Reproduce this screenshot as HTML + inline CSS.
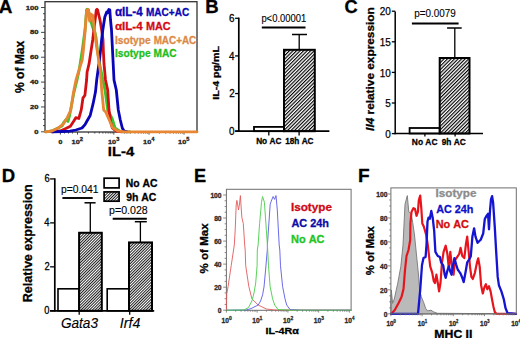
<!DOCTYPE html>
<html><head><meta charset="utf-8"><style>
html,body{margin:0;padding:0;background:#fff;}
svg{display:block;font-family:"Liberation Sans",sans-serif;font-kerning:none;}
</style></head><body>
<svg width="520" height="338" viewBox="0 0 520 338">
<rect width="520" height="338" fill="#fff"/>
<defs>
<pattern id="hB" patternUnits="userSpaceOnUse" width="2.5" height="10" patternTransform="rotate(45)"><rect x="0" y="0" width="1.15" height="10" fill="#000"/></pattern>
<pattern id="hD" patternUnits="userSpaceOnUse" width="2.0" height="10" patternTransform="rotate(45)"><rect x="0" y="0" width="0.95" height="10" fill="#111"/></pattern>
</defs>
<text x="-1.37" y="12.50" font-size="19.04" font-weight="bold" font-style="normal" fill="#000" stroke="#000" stroke-width="0.3" textLength="13.67" lengthAdjust="spacingAndGlyphs" >A</text>
<text x="205.26" y="12.60" font-size="19.04" font-weight="bold" font-style="normal" fill="#000" stroke="#000" stroke-width="0.3" textLength="13.38" lengthAdjust="spacingAndGlyphs" >B</text>
<text x="344.55" y="12.60" font-size="19.04" font-weight="bold" font-style="normal" fill="#000" stroke="#000" stroke-width="0.3" textLength="13.14" lengthAdjust="spacingAndGlyphs" >C</text>
<text x="1.86" y="182.40" font-size="19.04" font-weight="bold" font-style="normal" fill="#000" stroke="#000" stroke-width="0.3" textLength="13.42" lengthAdjust="spacingAndGlyphs" >D</text>
<text x="194.08" y="182.40" font-size="19.04" font-weight="bold" font-style="normal" fill="#000" stroke="#000" stroke-width="0.3" textLength="12.13" lengthAdjust="spacingAndGlyphs" >E</text>
<text x="357.92" y="182.40" font-size="19.04" font-weight="bold" font-style="normal" fill="#000" stroke="#000" stroke-width="0.3" textLength="11.68" lengthAdjust="spacingAndGlyphs" >F</text>
<rect x="45.00" y="1.70" width="152.00" height="130.30" fill="none" stroke="#333" stroke-width="1.3"/>
<line x1="41.00" y1="131.80" x2="45.00" y2="131.80" stroke="#333" stroke-width="0.9" />
<line x1="43.00" y1="125.59" x2="45.00" y2="125.59" stroke="#333" stroke-width="0.9" />
<line x1="43.00" y1="119.37" x2="45.00" y2="119.37" stroke="#333" stroke-width="0.9" />
<line x1="43.00" y1="113.16" x2="45.00" y2="113.16" stroke="#333" stroke-width="0.9" />
<line x1="41.00" y1="106.94" x2="45.00" y2="106.94" stroke="#333" stroke-width="0.9" />
<line x1="43.00" y1="100.73" x2="45.00" y2="100.73" stroke="#333" stroke-width="0.9" />
<line x1="43.00" y1="94.51" x2="45.00" y2="94.51" stroke="#333" stroke-width="0.9" />
<line x1="43.00" y1="88.30" x2="45.00" y2="88.30" stroke="#333" stroke-width="0.9" />
<line x1="41.00" y1="82.08" x2="45.00" y2="82.08" stroke="#333" stroke-width="0.9" />
<line x1="43.00" y1="75.87" x2="45.00" y2="75.87" stroke="#333" stroke-width="0.9" />
<line x1="43.00" y1="69.65" x2="45.00" y2="69.65" stroke="#333" stroke-width="0.9" />
<line x1="43.00" y1="63.44" x2="45.00" y2="63.44" stroke="#333" stroke-width="0.9" />
<line x1="41.00" y1="57.22" x2="45.00" y2="57.22" stroke="#333" stroke-width="0.9" />
<line x1="43.00" y1="51.01" x2="45.00" y2="51.01" stroke="#333" stroke-width="0.9" />
<line x1="43.00" y1="44.79" x2="45.00" y2="44.79" stroke="#333" stroke-width="0.9" />
<line x1="43.00" y1="38.58" x2="45.00" y2="38.58" stroke="#333" stroke-width="0.9" />
<line x1="41.00" y1="32.36" x2="45.00" y2="32.36" stroke="#333" stroke-width="0.9" />
<line x1="43.00" y1="26.14" x2="45.00" y2="26.14" stroke="#333" stroke-width="0.9" />
<line x1="43.00" y1="19.93" x2="45.00" y2="19.93" stroke="#333" stroke-width="0.9" />
<line x1="43.00" y1="13.72" x2="45.00" y2="13.72" stroke="#333" stroke-width="0.9" />
<line x1="41.00" y1="7.50" x2="45.00" y2="7.50" stroke="#333" stroke-width="0.9" />
<line x1="88.43" y1="132.00" x2="88.43" y2="133.60" stroke="#333" stroke-width="0.8" />
<line x1="94.82" y1="132.00" x2="94.82" y2="133.60" stroke="#333" stroke-width="0.8" />
<line x1="99.35" y1="132.00" x2="99.35" y2="133.60" stroke="#333" stroke-width="0.8" />
<line x1="102.87" y1="132.00" x2="102.87" y2="133.60" stroke="#333" stroke-width="0.8" />
<line x1="105.75" y1="132.00" x2="105.75" y2="133.60" stroke="#333" stroke-width="0.8" />
<line x1="108.18" y1="132.00" x2="108.18" y2="133.60" stroke="#333" stroke-width="0.8" />
<line x1="110.28" y1="132.00" x2="110.28" y2="133.60" stroke="#333" stroke-width="0.8" />
<line x1="112.14" y1="132.00" x2="112.14" y2="133.60" stroke="#333" stroke-width="0.8" />
<line x1="124.40" y1="132.00" x2="124.40" y2="133.60" stroke="#333" stroke-width="0.8" />
<line x1="130.59" y1="132.00" x2="130.59" y2="133.60" stroke="#333" stroke-width="0.8" />
<line x1="134.99" y1="132.00" x2="134.99" y2="133.60" stroke="#333" stroke-width="0.8" />
<line x1="138.40" y1="132.00" x2="138.40" y2="133.60" stroke="#333" stroke-width="0.8" />
<line x1="141.19" y1="132.00" x2="141.19" y2="133.60" stroke="#333" stroke-width="0.8" />
<line x1="143.55" y1="132.00" x2="143.55" y2="133.60" stroke="#333" stroke-width="0.8" />
<line x1="145.59" y1="132.00" x2="145.59" y2="133.60" stroke="#333" stroke-width="0.8" />
<line x1="147.39" y1="132.00" x2="147.39" y2="133.60" stroke="#333" stroke-width="0.8" />
<line x1="159.54" y1="132.00" x2="159.54" y2="133.60" stroke="#333" stroke-width="0.8" />
<line x1="165.70" y1="132.00" x2="165.70" y2="133.60" stroke="#333" stroke-width="0.8" />
<line x1="170.07" y1="132.00" x2="170.07" y2="133.60" stroke="#333" stroke-width="0.8" />
<line x1="173.46" y1="132.00" x2="173.46" y2="133.60" stroke="#333" stroke-width="0.8" />
<line x1="176.24" y1="132.00" x2="176.24" y2="133.60" stroke="#333" stroke-width="0.8" />
<line x1="178.58" y1="132.00" x2="178.58" y2="133.60" stroke="#333" stroke-width="0.8" />
<line x1="180.61" y1="132.00" x2="180.61" y2="133.60" stroke="#333" stroke-width="0.8" />
<line x1="182.40" y1="132.00" x2="182.40" y2="133.60" stroke="#333" stroke-width="0.8" />
<line x1="60.40" y1="132.00" x2="60.40" y2="134.60" stroke="#333" stroke-width="0.9" />
<line x1="77.50" y1="132.00" x2="77.50" y2="134.60" stroke="#333" stroke-width="0.9" />
<line x1="113.80" y1="132.00" x2="113.80" y2="134.60" stroke="#333" stroke-width="0.9" />
<line x1="149.00" y1="132.00" x2="149.00" y2="134.60" stroke="#333" stroke-width="0.9" />
<line x1="184.00" y1="132.00" x2="184.00" y2="134.60" stroke="#333" stroke-width="0.9" />
<line x1="64.50" y1="132.00" x2="64.50" y2="133.60" stroke="#333" stroke-width="0.8" />
<line x1="68.50" y1="132.00" x2="68.50" y2="133.60" stroke="#333" stroke-width="0.8" />
<line x1="72.50" y1="132.00" x2="72.50" y2="133.60" stroke="#333" stroke-width="0.8" />
<polyline points="46.0,131.8 52.0,131.0 58.0,128.0 62.0,126.0 64.0,122.0 66.0,119.5 68.0,121.5 69.5,116.0 71.0,108.0 73.6,94.0 76.8,81.0 79.2,70.0 82.3,50.0 85.0,30.0 86.6,10.0 87.0,9.3 88.5,10.0 90.0,18.0 92.5,27.0 95.1,33.0 96.0,37.0 97.4,50.0 99.5,63.0 101.5,73.0 102.8,80.0 105.0,90.0 107.7,110.0 112.3,119.0 115.0,128.0 120.0,131.5 130.0,131.8" fill="none" stroke="#38c42a" stroke-width="2.8" stroke-linejoin="round" stroke-linecap="round" />
<polyline points="52.0,131.8 60.4,131.0 65.8,128.5 70.4,126.2 73.5,121.5 75.8,117.7 78.8,118.5 81.3,109.6 83.0,97.8 84.9,95.4 86.6,80.0 87.1,72.0 89.1,63.7 90.9,51.8 92.7,40.0 94.5,25.0 96.3,10.0 97.0,9.3 97.6,10.0 100.0,20.0 101.7,30.0 103.0,40.0 103.4,51.8 104.0,63.7 105.5,80.0 107.7,90.0 109.0,110.0 110.7,122.0 112.3,128.0 116.0,131.0 122.0,131.8" fill="none" stroke="#d21014" stroke-width="2.8" stroke-linejoin="round" stroke-linecap="round" />
<polyline points="52.0,131.8 62.0,131.5 70.0,131.2 75.8,130.0 82.0,128.0 85.0,124.6 87.0,121.0 90.2,115.5 93.1,103.7 95.5,91.8 96.7,80.0 97.8,72.0 99.0,63.7 100.4,51.8 101.6,40.0 102.8,30.0 104.8,17.0 106.7,12.0 107.5,13.0 108.8,9.5 109.8,9.8 110.5,20.0 111.5,30.0 112.0,40.0 113.0,60.0 114.0,80.0 116.3,90.0 118.3,110.0 120.3,120.0 122.3,128.0 124.0,131.0 127.0,131.8" fill="none" stroke="#0a06b8" stroke-width="2.8" stroke-linejoin="round" stroke-linecap="round" />
<polyline points="45.5,131.8 52.0,131.0 58.8,127.7 63.5,123.8 67.3,117.7 70.8,110.0 73.6,91.8 76.0,80.0 79.0,70.0 82.2,60.0 83.4,50.0 85.2,30.0 86.6,10.0 88.3,9.5 89.6,21.0 90.6,14.0 92.8,15.5 94.3,28.0 95.7,40.0 97.4,51.8 99.2,63.7 100.4,72.0 101.0,80.0 101.7,90.0 103.7,110.0 105.7,112.0 109.0,119.3 112.3,127.3 117.7,131.0 125.0,131.8 197.0,131.8" fill="none" stroke="#e88634" stroke-width="2.8" stroke-linejoin="round" stroke-linecap="round" />
<text x="34.37" y="133.90" font-size="6.10" font-weight="bold" font-style="normal" fill="#222" stroke="#222" stroke-width="0.3" textLength="4.24" lengthAdjust="spacingAndGlyphs" >0</text>
<text x="30.13" y="109.04" font-size="6.10" font-weight="bold" font-style="normal" fill="#222" stroke="#222" stroke-width="0.3" textLength="8.49" lengthAdjust="spacingAndGlyphs" >20</text>
<text x="30.13" y="84.18" font-size="6.10" font-weight="bold" font-style="normal" fill="#222" stroke="#222" stroke-width="0.3" textLength="8.49" lengthAdjust="spacingAndGlyphs" >40</text>
<text x="30.13" y="59.32" font-size="6.10" font-weight="bold" font-style="normal" fill="#222" stroke="#222" stroke-width="0.3" textLength="8.49" lengthAdjust="spacingAndGlyphs" >60</text>
<text x="30.13" y="34.46" font-size="6.10" font-weight="bold" font-style="normal" fill="#222" stroke="#222" stroke-width="0.3" textLength="8.49" lengthAdjust="spacingAndGlyphs" >80</text>
<text x="25.88" y="9.60" font-size="6.10" font-weight="bold" font-style="normal" fill="#222" stroke="#222" stroke-width="0.3" textLength="12.73" lengthAdjust="spacingAndGlyphs" >100</text>
<text x="58.45" y="143.90" font-size="6.10" font-weight="bold" font-style="normal" fill="#222" stroke="#222" stroke-width="0.3" textLength="3.90" lengthAdjust="spacingAndGlyphs" >0</text>
<text x="71.64" y="143.90" font-size="6.10" font-weight="bold" font-style="normal" fill="#222" stroke="#222" stroke-width="0.3" textLength="8.16" lengthAdjust="spacingAndGlyphs" >10</text>
<text x="79.80" y="140.90" font-size="5.23" font-weight="bold" font-style="normal" fill="#222" stroke="#222" stroke-width="0.3" textLength="3.23" lengthAdjust="spacingAndGlyphs" >2</text>
<text x="107.94" y="143.90" font-size="6.10" font-weight="bold" font-style="normal" fill="#222" stroke="#222" stroke-width="0.3" textLength="8.16" lengthAdjust="spacingAndGlyphs" >10</text>
<text x="116.17" y="140.90" font-size="5.23" font-weight="bold" font-style="normal" fill="#222" stroke="#222" stroke-width="0.3" textLength="3.13" lengthAdjust="spacingAndGlyphs" >3</text>
<text x="143.14" y="143.90" font-size="6.10" font-weight="bold" font-style="normal" fill="#222" stroke="#222" stroke-width="0.3" textLength="8.16" lengthAdjust="spacingAndGlyphs" >10</text>
<text x="151.42" y="140.90" font-size="5.23" font-weight="bold" font-style="normal" fill="#222" stroke="#222" stroke-width="0.3" textLength="2.91" lengthAdjust="spacingAndGlyphs" >4</text>
<text x="178.14" y="143.90" font-size="6.10" font-weight="bold" font-style="normal" fill="#222" stroke="#222" stroke-width="0.3" textLength="8.16" lengthAdjust="spacingAndGlyphs" >10</text>
<text x="186.33" y="140.90" font-size="5.23" font-weight="bold" font-style="normal" fill="#222" stroke="#222" stroke-width="0.3" textLength="3.13" lengthAdjust="spacingAndGlyphs" >5</text>
<text x="107.80" y="156.20" font-size="13.66" font-weight="bold" font-style="normal" fill="#000" stroke="#000" stroke-width="0.3" textLength="26.48" lengthAdjust="spacingAndGlyphs" >IL-4</text>
<text transform="translate(23.80 92.70) rotate(-90)" x="-0.30" y="0" font-size="13.37" font-weight="bold" font-style="normal" fill="#000" stroke="#000" stroke-width="0.3" textLength="52.29" lengthAdjust="spacingAndGlyphs">% of Max</text>
<text x="114.95" y="16.00" font-size="11.92" font-weight="bold" font-style="normal" fill="#0a06b4" stroke="#0a06b4" stroke-width="0.3" textLength="27.71" lengthAdjust="spacingAndGlyphs" >αIL-4</text>
<text x="145.93" y="15.90" font-size="10.90" font-weight="bold" font-style="normal" fill="#0a06b4" stroke="#0a06b4" stroke-width="0.3" textLength="43.25" lengthAdjust="spacingAndGlyphs" >MAC+AC</text>
<text x="114.95" y="29.60" font-size="11.77" font-weight="bold" font-style="normal" fill="#d40a18" stroke="#d40a18" stroke-width="0.3" textLength="27.71" lengthAdjust="spacingAndGlyphs" >αIL-4</text>
<text x="145.88" y="29.60" font-size="10.90" font-weight="bold" font-style="normal" fill="#d40a18" stroke="#d40a18" stroke-width="0.3" textLength="24.62" lengthAdjust="spacingAndGlyphs" >MAC</text>
<text x="115.02" y="43.60" font-size="11.19" font-weight="bold" font-style="normal" fill="#dc8a48" stroke="#dc8a48" stroke-width="0.3" textLength="35.63" lengthAdjust="spacingAndGlyphs" >Isotype</text>
<text x="153.64" y="43.60" font-size="10.90" font-weight="bold" font-style="normal" fill="#dc8a48" stroke="#dc8a48" stroke-width="0.3" textLength="42.63" lengthAdjust="spacingAndGlyphs" >MAC+AC</text>
<text x="115.02" y="57.10" font-size="11.19" font-weight="bold" font-style="normal" fill="#1ebe1e" stroke="#1ebe1e" stroke-width="0.3" textLength="35.63" lengthAdjust="spacingAndGlyphs" >Isotype</text>
<text x="153.62" y="57.10" font-size="10.90" font-weight="bold" font-style="normal" fill="#1ebe1e" stroke="#1ebe1e" stroke-width="0.3" textLength="23.05" lengthAdjust="spacingAndGlyphs" >MAC</text>
<rect x="254.00" y="126.90" width="30.00" height="4.30" fill="#fff" stroke="#000" stroke-width="1.8"/>
<rect x="284.00" y="49.80" width="30.80" height="81.40" fill="url(#hB)" stroke="#000" stroke-width="2.0"/>
<line x1="299.20" y1="49.80" x2="299.20" y2="34.50" stroke="#000" stroke-width="1.3" />
<line x1="292.00" y1="34.50" x2="307.00" y2="34.50" stroke="#000" stroke-width="1.5" />
<line x1="238.80" y1="17.60" x2="238.80" y2="131.90" stroke="#000" stroke-width="1.7" />
<line x1="235.10" y1="131.20" x2="329.40" y2="131.20" stroke="#000" stroke-width="1.7" />
<line x1="235.10" y1="131.20" x2="238.80" y2="131.20" stroke="#000" stroke-width="1.3" />
<text x="229.06" y="135.10" font-size="11.05" font-weight="normal" font-style="normal" fill="#000" stroke="#000" stroke-width="0.28" textLength="5.53" lengthAdjust="spacingAndGlyphs" >0</text>
<line x1="235.10" y1="93.56" x2="238.80" y2="93.56" stroke="#000" stroke-width="1.3" />
<text x="229.17" y="97.46" font-size="11.05" font-weight="normal" font-style="normal" fill="#000" stroke="#000" stroke-width="0.28" textLength="5.53" lengthAdjust="spacingAndGlyphs" >2</text>
<line x1="235.10" y1="55.92" x2="238.80" y2="55.92" stroke="#000" stroke-width="1.3" />
<text x="228.96" y="59.82" font-size="11.05" font-weight="normal" font-style="normal" fill="#000" stroke="#000" stroke-width="0.28" textLength="5.53" lengthAdjust="spacingAndGlyphs" >4</text>
<line x1="235.10" y1="18.28" x2="238.80" y2="18.28" stroke="#000" stroke-width="1.3" />
<text x="229.11" y="22.18" font-size="11.05" font-weight="normal" font-style="normal" fill="#000" stroke="#000" stroke-width="0.28" textLength="5.53" lengthAdjust="spacingAndGlyphs" >6</text>
<line x1="268.80" y1="131.20" x2="268.80" y2="135.60" stroke="#000" stroke-width="1.3" />
<line x1="299.10" y1="131.20" x2="299.10" y2="135.60" stroke="#000" stroke-width="1.3" />
<text x="256.15" y="144.40" font-size="9.16" font-weight="bold" font-style="normal" fill="#000" stroke="#000" stroke-width="0.3" textLength="25.28" lengthAdjust="spacingAndGlyphs" >No AC</text>
<text x="285.18" y="144.40" font-size="9.16" font-weight="bold" font-style="normal" fill="#000" stroke="#000" stroke-width="0.3" textLength="28.34" lengthAdjust="spacingAndGlyphs" >18h AC</text>
<text x="261.39" y="22.30" font-size="10.32" font-weight="normal" font-style="normal" fill="#000" stroke="#000" stroke-width="0.12" textLength="44.87" lengthAdjust="spacingAndGlyphs" >p&lt;0.00001</text>
<line x1="261.80" y1="27.50" x2="305.50" y2="27.50" stroke="#000" stroke-width="1.8" />
<text transform="translate(218.80 99.00) rotate(-90)" x="-0.71" y="0" font-size="9.30" font-weight="bold" font-style="normal" fill="#000" stroke="#000" stroke-width="0.3" textLength="53.64" lengthAdjust="spacingAndGlyphs">IL-4 pg/mL</text>
<rect x="409.60" y="128.00" width="30.10" height="5.50" fill="#fff" stroke="#000" stroke-width="1.8"/>
<rect x="439.70" y="58.00" width="29.80" height="75.50" fill="url(#hB)" stroke="#000" stroke-width="2.0"/>
<line x1="454.80" y1="58.00" x2="454.80" y2="28.00" stroke="#000" stroke-width="1.3" />
<line x1="447.10" y1="28.00" x2="461.70" y2="28.00" stroke="#000" stroke-width="1.5" />
<line x1="395.20" y1="11.40" x2="395.20" y2="134.20" stroke="#000" stroke-width="1.5" />
<line x1="394.50" y1="133.50" x2="483.00" y2="133.50" stroke="#000" stroke-width="1.5" />
<line x1="391.80" y1="133.60" x2="395.20" y2="133.60" stroke="#000" stroke-width="1.3" />
<text x="385.24" y="137.80" font-size="11.34" font-weight="normal" font-style="normal" fill="#000" stroke="#000" stroke-width="0.25" textLength="5.55" lengthAdjust="spacingAndGlyphs" >0</text>
<line x1="391.80" y1="103.00" x2="395.20" y2="103.00" stroke="#000" stroke-width="1.3" />
<text x="385.27" y="107.20" font-size="11.34" font-weight="normal" font-style="normal" fill="#000" stroke="#000" stroke-width="0.25" textLength="5.55" lengthAdjust="spacingAndGlyphs" >5</text>
<line x1="391.80" y1="72.40" x2="395.20" y2="72.40" stroke="#000" stroke-width="1.3" />
<text x="379.69" y="76.60" font-size="11.34" font-weight="normal" font-style="normal" fill="#000" stroke="#000" stroke-width="0.25" textLength="11.10" lengthAdjust="spacingAndGlyphs" >10</text>
<line x1="391.80" y1="41.80" x2="395.20" y2="41.80" stroke="#000" stroke-width="1.3" />
<text x="379.72" y="46.00" font-size="11.34" font-weight="normal" font-style="normal" fill="#000" stroke="#000" stroke-width="0.25" textLength="11.10" lengthAdjust="spacingAndGlyphs" >15</text>
<line x1="391.80" y1="11.20" x2="395.20" y2="11.20" stroke="#000" stroke-width="1.3" />
<text x="379.69" y="15.40" font-size="11.34" font-weight="normal" font-style="normal" fill="#000" stroke="#000" stroke-width="0.25" textLength="11.10" lengthAdjust="spacingAndGlyphs" >20</text>
<line x1="424.90" y1="133.50" x2="424.90" y2="136.60" stroke="#000" stroke-width="1.3" />
<line x1="455.10" y1="133.50" x2="455.10" y2="136.60" stroke="#000" stroke-width="1.3" />
<text x="411.84" y="145.20" font-size="9.74" font-weight="bold" font-style="normal" fill="#000" stroke="#000" stroke-width="0.3" textLength="25.69" lengthAdjust="spacingAndGlyphs" >No AC</text>
<text x="441.71" y="145.20" font-size="9.74" font-weight="bold" font-style="normal" fill="#000" stroke="#000" stroke-width="0.3" textLength="24.12" lengthAdjust="spacingAndGlyphs" >9h AC</text>
<text x="414.16" y="16.80" font-size="11.34" font-weight="normal" font-style="normal" fill="#000" stroke="#000" stroke-width="0.12" textLength="41.51" lengthAdjust="spacingAndGlyphs" >p=0.0079</text>
<line x1="411.90" y1="23.60" x2="458.60" y2="23.60" stroke="#000" stroke-width="2.0" />
<text transform="translate(373.50 130.70) rotate(-90)" y="0" font-size="11.63" stroke="#000" stroke-width="0.3" xml:space="preserve"><tspan x="-0.21" font-weight="bold" font-style="italic" textLength="13.15" lengthAdjust="spacingAndGlyphs">Il4</tspan><tspan x="12.95" font-weight="bold" font-style="normal" textLength="110.49" lengthAdjust="spacingAndGlyphs"> relative expression</tspan></text>
<rect x="58.00" y="288.82" width="21.10" height="21.98" fill="#fff" stroke="#000" stroke-width="1.6"/>
<rect x="79.10" y="232.77" width="22.70" height="78.03" fill="url(#hD)" stroke="#000" stroke-width="2.0"/>
<rect x="107.20" y="288.82" width="21.80" height="21.98" fill="#fff" stroke="#000" stroke-width="1.6"/>
<rect x="129.00" y="242.44" width="23.00" height="68.36" fill="url(#hD)" stroke="#000" stroke-width="2.0"/>
<line x1="90.30" y1="232.77" x2="90.30" y2="202.80" stroke="#000" stroke-width="1.3" />
<line x1="84.50" y1="202.80" x2="95.60" y2="202.80" stroke="#000" stroke-width="1.5" />
<line x1="140.40" y1="242.44" x2="140.40" y2="221.70" stroke="#000" stroke-width="1.3" />
<line x1="134.80" y1="221.70" x2="146.80" y2="221.70" stroke="#000" stroke-width="1.5" />
<line x1="54.80" y1="178.30" x2="54.80" y2="311.50" stroke="#000" stroke-width="1.7" />
<line x1="50.10" y1="310.80" x2="154.20" y2="310.80" stroke="#000" stroke-width="1.7" />
<line x1="50.10" y1="310.80" x2="54.80" y2="310.80" stroke="#000" stroke-width="1.3" />
<text x="44.36" y="314.30" font-size="10.17" font-weight="normal" font-style="normal" fill="#000" stroke="#000" stroke-width="0.28" textLength="5.21" lengthAdjust="spacingAndGlyphs" >0</text>
<line x1="50.10" y1="266.84" x2="54.80" y2="266.84" stroke="#000" stroke-width="1.3" />
<text x="44.46" y="270.34" font-size="10.17" font-weight="normal" font-style="normal" fill="#000" stroke="#000" stroke-width="0.28" textLength="5.21" lengthAdjust="spacingAndGlyphs" >2</text>
<line x1="50.10" y1="222.88" x2="54.80" y2="222.88" stroke="#000" stroke-width="1.3" />
<text x="44.27" y="226.38" font-size="10.17" font-weight="normal" font-style="normal" fill="#000" stroke="#000" stroke-width="0.28" textLength="5.21" lengthAdjust="spacingAndGlyphs" >4</text>
<line x1="50.10" y1="178.92" x2="54.80" y2="178.92" stroke="#000" stroke-width="1.3" />
<text x="44.41" y="182.42" font-size="10.17" font-weight="normal" font-style="normal" fill="#000" stroke="#000" stroke-width="0.28" textLength="5.21" lengthAdjust="spacingAndGlyphs" >6</text>
<line x1="79.20" y1="310.80" x2="79.20" y2="314.80" stroke="#000" stroke-width="1.3" />
<line x1="129.70" y1="310.80" x2="129.70" y2="314.80" stroke="#000" stroke-width="1.3" />
<text x="60.93" y="328.40" font-size="15.12" font-weight="normal" font-style="italic" fill="#000" stroke="#000" stroke-width="0.12" textLength="37.09" lengthAdjust="spacingAndGlyphs" >Gata3</text>
<text x="119.84" y="328.40" font-size="15.12" font-weight="normal" font-style="italic" fill="#000" stroke="#000" stroke-width="0.12" textLength="20.49" lengthAdjust="spacingAndGlyphs" >Irf4</text>
<text x="60.93" y="193.00" font-size="11.48" font-weight="normal" font-style="normal" fill="#000" stroke="#000" stroke-width="0.12" textLength="37.67" lengthAdjust="spacingAndGlyphs" >p=0.041</text>
<line x1="62.40" y1="198.00" x2="92.70" y2="198.00" stroke="#000" stroke-width="1.9" />
<text x="109.12" y="214.40" font-size="11.34" font-weight="normal" font-style="normal" fill="#000" stroke="#000" stroke-width="0.12" textLength="38.64" lengthAdjust="spacingAndGlyphs" >p=0.028</text>
<line x1="112.70" y1="218.80" x2="146.80" y2="218.80" stroke="#000" stroke-width="1.9" />
<rect x="104.10" y="178.20" width="15.00" height="9.70" fill="#fff" stroke="#000" stroke-width="1.7"/>
<rect x="104.10" y="191.90" width="15.00" height="9.30" fill="url(#hD)" stroke="#000" stroke-width="1.7"/>
<text x="125.81" y="186.90" font-size="10.47" font-weight="bold" font-style="normal" fill="#000" stroke="#000" stroke-width="0.3" textLength="31.68" lengthAdjust="spacingAndGlyphs" >No AC</text>
<text x="126.14" y="200.60" font-size="10.76" font-weight="bold" font-style="normal" fill="#000" stroke="#000" stroke-width="0.3" textLength="30.15" lengthAdjust="spacingAndGlyphs" >9h AC</text>
<text transform="translate(31.90 301.50) rotate(-90)" x="-0.84" y="0" font-size="12.94" font-weight="bold" font-style="normal" fill="#000" stroke="#000" stroke-width="0.3" textLength="118.02" lengthAdjust="spacingAndGlyphs">Relative expression</text>
<rect x="226.40" y="189.30" width="124.70" height="121.00" fill="none" stroke="#6e6e6e" stroke-width="1"/>
<polyline points="226.6,310.0 226.6,300.0 226.8,293.7 228.1,286.4 231.2,265.7 234.3,245.0 235.2,230.0 236.2,205.0 236.9,200.4 238.5,210.0 239.5,204.0 240.4,195.6 241.2,208.0 241.9,217.7 243.3,223.5 244.7,245.0 245.2,250.0 245.7,265.7 248.8,286.4 251.9,298.8 258.1,305.0 266.4,309.0 275.0,310.0 351.0,310.2" fill="none" stroke="#e25a5a" stroke-width="0.9" stroke-linejoin="round" stroke-linecap="round" />
<polyline points="226.5,310.2 246.0,310.0 251.0,308.6 255.0,306.6 258.2,305.0 260.6,301.0 262.6,294.8 264.0,287.0 265.4,272.0 267.3,250.0 267.4,245.0 270.2,204.2 271.2,201.3 273.1,196.5 274.6,199.4 276.0,195.6 277.3,210.0 279.2,245.0 279.8,250.0 280.5,265.7 282.6,286.4 285.0,298.8 286.7,305.0 290.0,309.5 300.0,310.2 351.0,310.2" fill="none" stroke="#5a5ae6" stroke-width="0.9" stroke-linejoin="round" stroke-linecap="round" />
<polyline points="226.5,310.2 244.0,310.0 248.5,307.5 251.9,301.0 254.0,293.0 255.7,283.0 257.1,265.7 257.3,250.0 258.1,245.0 259.6,223.5 261.5,202.3 262.5,196.5 263.4,199.0 264.4,202.3 266.3,229.2 267.4,245.0 267.7,250.0 268.5,265.7 270.1,286.4 272.6,298.8 274.7,305.0 278.0,309.5 290.0,310.2 351.0,310.2" fill="none" stroke="#5ad25a" stroke-width="1.0" stroke-linejoin="round" stroke-linecap="round" />
<line x1="223.20" y1="310.20" x2="226.40" y2="310.20" stroke="#6e6e6e" stroke-width="0.8" />
<line x1="224.60" y1="304.44" x2="226.40" y2="304.44" stroke="#6e6e6e" stroke-width="0.8" />
<line x1="224.60" y1="298.68" x2="226.40" y2="298.68" stroke="#6e6e6e" stroke-width="0.8" />
<line x1="224.60" y1="292.92" x2="226.40" y2="292.92" stroke="#6e6e6e" stroke-width="0.8" />
<line x1="223.20" y1="287.16" x2="226.40" y2="287.16" stroke="#6e6e6e" stroke-width="0.8" />
<line x1="224.60" y1="281.40" x2="226.40" y2="281.40" stroke="#6e6e6e" stroke-width="0.8" />
<line x1="224.60" y1="275.64" x2="226.40" y2="275.64" stroke="#6e6e6e" stroke-width="0.8" />
<line x1="224.60" y1="269.88" x2="226.40" y2="269.88" stroke="#6e6e6e" stroke-width="0.8" />
<line x1="223.20" y1="264.12" x2="226.40" y2="264.12" stroke="#6e6e6e" stroke-width="0.8" />
<line x1="224.60" y1="258.36" x2="226.40" y2="258.36" stroke="#6e6e6e" stroke-width="0.8" />
<line x1="224.60" y1="252.60" x2="226.40" y2="252.60" stroke="#6e6e6e" stroke-width="0.8" />
<line x1="224.60" y1="246.84" x2="226.40" y2="246.84" stroke="#6e6e6e" stroke-width="0.8" />
<line x1="223.20" y1="241.08" x2="226.40" y2="241.08" stroke="#6e6e6e" stroke-width="0.8" />
<line x1="224.60" y1="235.32" x2="226.40" y2="235.32" stroke="#6e6e6e" stroke-width="0.8" />
<line x1="224.60" y1="229.56" x2="226.40" y2="229.56" stroke="#6e6e6e" stroke-width="0.8" />
<line x1="224.60" y1="223.80" x2="226.40" y2="223.80" stroke="#6e6e6e" stroke-width="0.8" />
<line x1="223.20" y1="218.04" x2="226.40" y2="218.04" stroke="#6e6e6e" stroke-width="0.8" />
<line x1="224.60" y1="212.28" x2="226.40" y2="212.28" stroke="#6e6e6e" stroke-width="0.8" />
<line x1="224.60" y1="206.52" x2="226.40" y2="206.52" stroke="#6e6e6e" stroke-width="0.8" />
<line x1="224.60" y1="200.76" x2="226.40" y2="200.76" stroke="#6e6e6e" stroke-width="0.8" />
<line x1="223.20" y1="195.00" x2="226.40" y2="195.00" stroke="#6e6e6e" stroke-width="0.8" />
<line x1="226.40" y1="310.30" x2="226.40" y2="312.60" stroke="#6e6e6e" stroke-width="0.8" />
<line x1="235.66" y1="310.30" x2="235.66" y2="311.70" stroke="#6e6e6e" stroke-width="0.8" />
<line x1="241.07" y1="310.30" x2="241.07" y2="311.70" stroke="#6e6e6e" stroke-width="0.8" />
<line x1="244.91" y1="310.30" x2="244.91" y2="311.70" stroke="#6e6e6e" stroke-width="0.8" />
<line x1="247.89" y1="310.30" x2="247.89" y2="311.70" stroke="#6e6e6e" stroke-width="0.8" />
<line x1="250.33" y1="310.30" x2="250.33" y2="311.70" stroke="#6e6e6e" stroke-width="0.8" />
<line x1="252.39" y1="310.30" x2="252.39" y2="311.70" stroke="#6e6e6e" stroke-width="0.8" />
<line x1="254.17" y1="310.30" x2="254.17" y2="311.70" stroke="#6e6e6e" stroke-width="0.8" />
<line x1="255.74" y1="310.30" x2="255.74" y2="311.70" stroke="#6e6e6e" stroke-width="0.8" />
<line x1="257.15" y1="310.30" x2="257.15" y2="312.60" stroke="#6e6e6e" stroke-width="0.8" />
<line x1="266.41" y1="310.30" x2="266.41" y2="311.70" stroke="#6e6e6e" stroke-width="0.8" />
<line x1="271.82" y1="310.30" x2="271.82" y2="311.70" stroke="#6e6e6e" stroke-width="0.8" />
<line x1="275.66" y1="310.30" x2="275.66" y2="311.70" stroke="#6e6e6e" stroke-width="0.8" />
<line x1="278.64" y1="310.30" x2="278.64" y2="311.70" stroke="#6e6e6e" stroke-width="0.8" />
<line x1="281.08" y1="310.30" x2="281.08" y2="311.70" stroke="#6e6e6e" stroke-width="0.8" />
<line x1="283.14" y1="310.30" x2="283.14" y2="311.70" stroke="#6e6e6e" stroke-width="0.8" />
<line x1="284.92" y1="310.30" x2="284.92" y2="311.70" stroke="#6e6e6e" stroke-width="0.8" />
<line x1="286.49" y1="310.30" x2="286.49" y2="311.70" stroke="#6e6e6e" stroke-width="0.8" />
<line x1="287.90" y1="310.30" x2="287.90" y2="312.60" stroke="#6e6e6e" stroke-width="0.8" />
<line x1="297.16" y1="310.30" x2="297.16" y2="311.70" stroke="#6e6e6e" stroke-width="0.8" />
<line x1="302.57" y1="310.30" x2="302.57" y2="311.70" stroke="#6e6e6e" stroke-width="0.8" />
<line x1="306.41" y1="310.30" x2="306.41" y2="311.70" stroke="#6e6e6e" stroke-width="0.8" />
<line x1="309.39" y1="310.30" x2="309.39" y2="311.70" stroke="#6e6e6e" stroke-width="0.8" />
<line x1="311.83" y1="310.30" x2="311.83" y2="311.70" stroke="#6e6e6e" stroke-width="0.8" />
<line x1="313.89" y1="310.30" x2="313.89" y2="311.70" stroke="#6e6e6e" stroke-width="0.8" />
<line x1="315.67" y1="310.30" x2="315.67" y2="311.70" stroke="#6e6e6e" stroke-width="0.8" />
<line x1="317.24" y1="310.30" x2="317.24" y2="311.70" stroke="#6e6e6e" stroke-width="0.8" />
<line x1="318.65" y1="310.30" x2="318.65" y2="312.60" stroke="#6e6e6e" stroke-width="0.8" />
<line x1="327.91" y1="310.30" x2="327.91" y2="311.70" stroke="#6e6e6e" stroke-width="0.8" />
<line x1="333.32" y1="310.30" x2="333.32" y2="311.70" stroke="#6e6e6e" stroke-width="0.8" />
<line x1="337.16" y1="310.30" x2="337.16" y2="311.70" stroke="#6e6e6e" stroke-width="0.8" />
<line x1="340.14" y1="310.30" x2="340.14" y2="311.70" stroke="#6e6e6e" stroke-width="0.8" />
<line x1="342.58" y1="310.30" x2="342.58" y2="311.70" stroke="#6e6e6e" stroke-width="0.8" />
<line x1="344.64" y1="310.30" x2="344.64" y2="311.70" stroke="#6e6e6e" stroke-width="0.8" />
<line x1="346.42" y1="310.30" x2="346.42" y2="311.70" stroke="#6e6e6e" stroke-width="0.8" />
<line x1="347.99" y1="310.30" x2="347.99" y2="311.70" stroke="#6e6e6e" stroke-width="0.8" />
<line x1="349.40" y1="310.30" x2="349.40" y2="312.60" stroke="#6e6e6e" stroke-width="0.8" />
<text x="217.86" y="312.80" font-size="6.69" font-weight="bold" font-style="normal" fill="#2a2a2a" stroke="#2a2a2a" stroke-width="0.3" textLength="3.72" lengthAdjust="spacingAndGlyphs" >0</text>
<text x="214.14" y="289.76" font-size="6.69" font-weight="bold" font-style="normal" fill="#2a2a2a" stroke="#2a2a2a" stroke-width="0.3" textLength="7.44" lengthAdjust="spacingAndGlyphs" >20</text>
<text x="214.14" y="266.72" font-size="6.69" font-weight="bold" font-style="normal" fill="#2a2a2a" stroke="#2a2a2a" stroke-width="0.3" textLength="7.44" lengthAdjust="spacingAndGlyphs" >40</text>
<text x="214.14" y="243.68" font-size="6.69" font-weight="bold" font-style="normal" fill="#2a2a2a" stroke="#2a2a2a" stroke-width="0.3" textLength="7.44" lengthAdjust="spacingAndGlyphs" >60</text>
<text x="214.14" y="220.64" font-size="6.69" font-weight="bold" font-style="normal" fill="#2a2a2a" stroke="#2a2a2a" stroke-width="0.3" textLength="7.44" lengthAdjust="spacingAndGlyphs" >80</text>
<text x="210.42" y="197.60" font-size="6.69" font-weight="bold" font-style="normal" fill="#2a2a2a" stroke="#2a2a2a" stroke-width="0.3" textLength="11.16" lengthAdjust="spacingAndGlyphs" >100</text>
<text x="221.58" y="323.10" font-size="6.83" font-weight="bold" font-style="normal" fill="#2a2a2a" stroke="#2a2a2a" stroke-width="0.3" textLength="7.39" lengthAdjust="spacingAndGlyphs" >10</text>
<text x="228.90" y="319.60" font-size="5.67" font-weight="bold" font-style="normal" fill="#2a2a2a" stroke="#2a2a2a" stroke-width="0.3" textLength="2.81" lengthAdjust="spacingAndGlyphs" >0</text>
<text x="252.33" y="323.10" font-size="6.83" font-weight="bold" font-style="normal" fill="#2a2a2a" stroke="#2a2a2a" stroke-width="0.3" textLength="7.39" lengthAdjust="spacingAndGlyphs" >10</text>
<text x="259.53" y="319.60" font-size="5.67" font-weight="bold" font-style="normal" fill="#2a2a2a" stroke="#2a2a2a" stroke-width="0.3" textLength="2.87" lengthAdjust="spacingAndGlyphs" >1</text>
<text x="283.08" y="323.10" font-size="6.83" font-weight="bold" font-style="normal" fill="#2a2a2a" stroke="#2a2a2a" stroke-width="0.3" textLength="7.39" lengthAdjust="spacingAndGlyphs" >10</text>
<text x="290.43" y="319.60" font-size="5.67" font-weight="bold" font-style="normal" fill="#2a2a2a" stroke="#2a2a2a" stroke-width="0.3" textLength="2.77" lengthAdjust="spacingAndGlyphs" >2</text>
<text x="313.83" y="323.10" font-size="6.83" font-weight="bold" font-style="normal" fill="#2a2a2a" stroke="#2a2a2a" stroke-width="0.3" textLength="7.39" lengthAdjust="spacingAndGlyphs" >10</text>
<text x="321.24" y="319.60" font-size="5.67" font-weight="bold" font-style="normal" fill="#2a2a2a" stroke="#2a2a2a" stroke-width="0.3" textLength="2.69" lengthAdjust="spacingAndGlyphs" >3</text>
<text x="344.58" y="323.10" font-size="6.83" font-weight="bold" font-style="normal" fill="#2a2a2a" stroke="#2a2a2a" stroke-width="0.3" textLength="7.39" lengthAdjust="spacingAndGlyphs" >10</text>
<text x="352.03" y="319.60" font-size="5.67" font-weight="bold" font-style="normal" fill="#2a2a2a" stroke="#2a2a2a" stroke-width="0.3" textLength="2.49" lengthAdjust="spacingAndGlyphs" >4</text>
<text x="265.48" y="334.40" font-size="9.59" font-weight="bold" font-style="normal" fill="#000" stroke="#000" stroke-width="0.3" textLength="33.43" lengthAdjust="spacingAndGlyphs" >IL-4Rα</text>
<text transform="translate(208.10 273.10) rotate(-90)" x="-0.29" y="0" font-size="11.48" font-weight="bold" font-style="normal" fill="#000" stroke="#000" stroke-width="0.3" textLength="49.97" lengthAdjust="spacingAndGlyphs">% of Max</text>
<text x="290.91" y="211.30" font-size="11.77" font-weight="bold" font-style="normal" fill="#cc0a16" stroke="#cc0a16" stroke-width="0.3" textLength="41.09" lengthAdjust="spacingAndGlyphs" >Isotype</text>
<text x="291.43" y="226.80" font-size="10.76" font-weight="bold" font-style="normal" fill="#0c0ca8" stroke="#0c0ca8" stroke-width="0.3" textLength="37.44" lengthAdjust="spacingAndGlyphs" >AC 24h</text>
<text x="290.97" y="242.70" font-size="11.19" font-weight="bold" font-style="normal" fill="#22c422" stroke="#22c422" stroke-width="0.3" textLength="33.53" lengthAdjust="spacingAndGlyphs" >No AC</text>
<polygon points="390.9,313.8 390.9,300.0 391.3,290.0 392.6,303.3 394.3,299.0 397.6,283.9 400.8,266.6 402.5,250.0 403.0,245.0 405.0,204.2 407.3,195.6 408.8,211.9 411.2,213.8 412.7,222.5 414.5,235.0 415.5,245.0 417.0,260.0 418.5,275.0 419.6,290.0 421.3,296.7 423.7,302.6 425.7,308.4 427.6,310.9 431.0,310.2 433.5,311.8 437.4,313.3 516.0,313.8" fill="#bababa" stroke="#777" stroke-width="0.9" stroke-linejoin="round" stroke-linecap="round" />
<polyline points="391.0,313.8 392.0,313.0 394.8,310.0 398.6,303.0 401.5,297.0 403.5,289.0 405.0,270.0 406.5,256.0 408.5,250.0 410.2,240.0 410.4,223.5 411.5,211.9 413.5,208.1 415.0,209.0 416.5,215.8 417.9,211.9 418.8,200.4 420.2,195.6 421.3,208.1 422.3,223.5 423.7,226.3 424.6,229.2 426.2,235.0 427.8,245.0 430.2,266.4 432.2,272.6 433.7,280.9 434.9,283.0 436.4,274.7 437.8,283.0 439.1,291.3 440.5,283.0 442.0,262.3 443.6,251.9 445.7,245.7 447.4,254.0 448.8,268.5 450.3,251.9 451.9,266.4 453.6,274.7 455.0,260.2 457.1,257.1 459.2,254.0 460.6,247.8 462.3,256.0 464.3,258.1 466.0,243.6 467.2,236.6 468.7,252.0 470.0,266.6 471.4,276.9 472.8,279.0 474.9,272.8 477.0,262.4 478.2,258.3 479.7,266.6 481.1,285.2 482.8,293.5 484.4,287.3 485.9,284.2 487.3,289.3 489.0,286.2 490.6,291.4 492.1,299.7 493.5,306.9 494.8,312.1 496.2,313.6 516.0,313.8" fill="none" stroke="#e8141c" stroke-width="2.2" stroke-linejoin="round" stroke-linecap="round" />
<polyline points="391.0,313.8 418.0,313.8 420.2,290.0 422.0,265.0 423.5,258.0 425.6,256.9 426.5,245.0 427.5,221.5 428.5,217.7 429.8,218.7 431.3,211.0 432.7,217.7 434.2,231.2 435.4,251.9 437.8,256.0 439.9,257.1 441.1,262.3 443.2,265.4 444.7,274.7 445.7,277.8 447.4,270.5 448.8,266.4 450.3,271.6 451.5,274.7 453.0,265.4 454.4,258.1 456.1,264.3 457.7,269.5 459.2,271.6 460.6,273.7 462.3,277.8 463.7,282.1 465.8,270.7 467.2,262.4 469.3,259.3 470.8,256.2 472.4,236.6 474.1,228.3 475.5,236.6 477.6,242.8 480.7,239.7 483.2,233.5 484.8,219.0 486.5,215.9 488.0,213.8 489.0,229.3 490.0,210.7 491.0,199.3 492.1,196.2 493.1,202.4 494.8,227.3 496.2,252.1 497.7,276.9 498.9,285.2 501.4,291.4 503.9,299.7 505.5,308.0 507.6,313.1 516.0,313.8" fill="none" stroke="#1414d2" stroke-width="2.3" stroke-linejoin="round" stroke-linecap="round" />
<rect x="390.90" y="187.90" width="125.40" height="125.90" fill="none" stroke="#6e6e6e" stroke-width="1"/>
<line x1="387.80" y1="313.80" x2="390.90" y2="313.80" stroke="#6e6e6e" stroke-width="0.8" />
<line x1="389.20" y1="307.81" x2="390.90" y2="307.81" stroke="#6e6e6e" stroke-width="0.8" />
<line x1="389.20" y1="301.82" x2="390.90" y2="301.82" stroke="#6e6e6e" stroke-width="0.8" />
<line x1="389.20" y1="295.83" x2="390.90" y2="295.83" stroke="#6e6e6e" stroke-width="0.8" />
<line x1="387.80" y1="289.84" x2="390.90" y2="289.84" stroke="#6e6e6e" stroke-width="0.8" />
<line x1="389.20" y1="283.85" x2="390.90" y2="283.85" stroke="#6e6e6e" stroke-width="0.8" />
<line x1="389.20" y1="277.86" x2="390.90" y2="277.86" stroke="#6e6e6e" stroke-width="0.8" />
<line x1="389.20" y1="271.87" x2="390.90" y2="271.87" stroke="#6e6e6e" stroke-width="0.8" />
<line x1="387.80" y1="265.88" x2="390.90" y2="265.88" stroke="#6e6e6e" stroke-width="0.8" />
<line x1="389.20" y1="259.89" x2="390.90" y2="259.89" stroke="#6e6e6e" stroke-width="0.8" />
<line x1="389.20" y1="253.90" x2="390.90" y2="253.90" stroke="#6e6e6e" stroke-width="0.8" />
<line x1="389.20" y1="247.91" x2="390.90" y2="247.91" stroke="#6e6e6e" stroke-width="0.8" />
<line x1="387.80" y1="241.92" x2="390.90" y2="241.92" stroke="#6e6e6e" stroke-width="0.8" />
<line x1="389.20" y1="235.93" x2="390.90" y2="235.93" stroke="#6e6e6e" stroke-width="0.8" />
<line x1="389.20" y1="229.94" x2="390.90" y2="229.94" stroke="#6e6e6e" stroke-width="0.8" />
<line x1="389.20" y1="223.95" x2="390.90" y2="223.95" stroke="#6e6e6e" stroke-width="0.8" />
<line x1="387.80" y1="217.96" x2="390.90" y2="217.96" stroke="#6e6e6e" stroke-width="0.8" />
<line x1="389.20" y1="211.97" x2="390.90" y2="211.97" stroke="#6e6e6e" stroke-width="0.8" />
<line x1="389.20" y1="205.98" x2="390.90" y2="205.98" stroke="#6e6e6e" stroke-width="0.8" />
<line x1="389.20" y1="199.99" x2="390.90" y2="199.99" stroke="#6e6e6e" stroke-width="0.8" />
<line x1="387.80" y1="194.00" x2="390.90" y2="194.00" stroke="#6e6e6e" stroke-width="0.8" />
<line x1="390.90" y1="313.90" x2="390.90" y2="316.20" stroke="#6e6e6e" stroke-width="0.8" />
<line x1="400.29" y1="313.90" x2="400.29" y2="315.30" stroke="#6e6e6e" stroke-width="0.8" />
<line x1="405.79" y1="313.90" x2="405.79" y2="315.30" stroke="#6e6e6e" stroke-width="0.8" />
<line x1="409.68" y1="313.90" x2="409.68" y2="315.30" stroke="#6e6e6e" stroke-width="0.8" />
<line x1="412.71" y1="313.90" x2="412.71" y2="315.30" stroke="#6e6e6e" stroke-width="0.8" />
<line x1="415.18" y1="313.90" x2="415.18" y2="315.30" stroke="#6e6e6e" stroke-width="0.8" />
<line x1="417.27" y1="313.90" x2="417.27" y2="315.30" stroke="#6e6e6e" stroke-width="0.8" />
<line x1="419.08" y1="313.90" x2="419.08" y2="315.30" stroke="#6e6e6e" stroke-width="0.8" />
<line x1="420.67" y1="313.90" x2="420.67" y2="315.30" stroke="#6e6e6e" stroke-width="0.8" />
<line x1="422.10" y1="313.90" x2="422.10" y2="316.20" stroke="#6e6e6e" stroke-width="0.8" />
<line x1="431.49" y1="313.90" x2="431.49" y2="315.30" stroke="#6e6e6e" stroke-width="0.8" />
<line x1="436.99" y1="313.90" x2="436.99" y2="315.30" stroke="#6e6e6e" stroke-width="0.8" />
<line x1="440.88" y1="313.90" x2="440.88" y2="315.30" stroke="#6e6e6e" stroke-width="0.8" />
<line x1="443.91" y1="313.90" x2="443.91" y2="315.30" stroke="#6e6e6e" stroke-width="0.8" />
<line x1="446.38" y1="313.90" x2="446.38" y2="315.30" stroke="#6e6e6e" stroke-width="0.8" />
<line x1="448.47" y1="313.90" x2="448.47" y2="315.30" stroke="#6e6e6e" stroke-width="0.8" />
<line x1="450.28" y1="313.90" x2="450.28" y2="315.30" stroke="#6e6e6e" stroke-width="0.8" />
<line x1="451.87" y1="313.90" x2="451.87" y2="315.30" stroke="#6e6e6e" stroke-width="0.8" />
<line x1="453.30" y1="313.90" x2="453.30" y2="316.20" stroke="#6e6e6e" stroke-width="0.8" />
<line x1="462.69" y1="313.90" x2="462.69" y2="315.30" stroke="#6e6e6e" stroke-width="0.8" />
<line x1="468.19" y1="313.90" x2="468.19" y2="315.30" stroke="#6e6e6e" stroke-width="0.8" />
<line x1="472.08" y1="313.90" x2="472.08" y2="315.30" stroke="#6e6e6e" stroke-width="0.8" />
<line x1="475.11" y1="313.90" x2="475.11" y2="315.30" stroke="#6e6e6e" stroke-width="0.8" />
<line x1="477.58" y1="313.90" x2="477.58" y2="315.30" stroke="#6e6e6e" stroke-width="0.8" />
<line x1="479.67" y1="313.90" x2="479.67" y2="315.30" stroke="#6e6e6e" stroke-width="0.8" />
<line x1="481.48" y1="313.90" x2="481.48" y2="315.30" stroke="#6e6e6e" stroke-width="0.8" />
<line x1="483.07" y1="313.90" x2="483.07" y2="315.30" stroke="#6e6e6e" stroke-width="0.8" />
<line x1="484.50" y1="313.90" x2="484.50" y2="316.20" stroke="#6e6e6e" stroke-width="0.8" />
<line x1="493.89" y1="313.90" x2="493.89" y2="315.30" stroke="#6e6e6e" stroke-width="0.8" />
<line x1="499.39" y1="313.90" x2="499.39" y2="315.30" stroke="#6e6e6e" stroke-width="0.8" />
<line x1="503.28" y1="313.90" x2="503.28" y2="315.30" stroke="#6e6e6e" stroke-width="0.8" />
<line x1="506.31" y1="313.90" x2="506.31" y2="315.30" stroke="#6e6e6e" stroke-width="0.8" />
<line x1="508.78" y1="313.90" x2="508.78" y2="315.30" stroke="#6e6e6e" stroke-width="0.8" />
<line x1="510.87" y1="313.90" x2="510.87" y2="315.30" stroke="#6e6e6e" stroke-width="0.8" />
<line x1="512.68" y1="313.90" x2="512.68" y2="315.30" stroke="#6e6e6e" stroke-width="0.8" />
<line x1="514.27" y1="313.90" x2="514.27" y2="315.30" stroke="#6e6e6e" stroke-width="0.8" />
<text x="383.76" y="316.50" font-size="6.69" font-weight="bold" font-style="normal" fill="#2a2a2a" stroke="#2a2a2a" stroke-width="0.3" textLength="3.72" lengthAdjust="spacingAndGlyphs" >0</text>
<text x="380.04" y="292.54" font-size="6.69" font-weight="bold" font-style="normal" fill="#2a2a2a" stroke="#2a2a2a" stroke-width="0.3" textLength="7.44" lengthAdjust="spacingAndGlyphs" >20</text>
<text x="380.04" y="268.58" font-size="6.69" font-weight="bold" font-style="normal" fill="#2a2a2a" stroke="#2a2a2a" stroke-width="0.3" textLength="7.44" lengthAdjust="spacingAndGlyphs" >40</text>
<text x="380.04" y="244.62" font-size="6.69" font-weight="bold" font-style="normal" fill="#2a2a2a" stroke="#2a2a2a" stroke-width="0.3" textLength="7.44" lengthAdjust="spacingAndGlyphs" >60</text>
<text x="380.04" y="220.66" font-size="6.69" font-weight="bold" font-style="normal" fill="#2a2a2a" stroke="#2a2a2a" stroke-width="0.3" textLength="7.44" lengthAdjust="spacingAndGlyphs" >80</text>
<text x="376.32" y="196.70" font-size="6.69" font-weight="bold" font-style="normal" fill="#2a2a2a" stroke="#2a2a2a" stroke-width="0.3" textLength="11.16" lengthAdjust="spacingAndGlyphs" >100</text>
<text x="386.49" y="325.90" font-size="6.69" font-weight="bold" font-style="normal" fill="#2a2a2a" stroke="#2a2a2a" stroke-width="0.3" textLength="7.17" lengthAdjust="spacingAndGlyphs" >10</text>
<text x="393.53" y="323.00" font-size="4.80" font-weight="bold" font-style="normal" fill="#2a2a2a" stroke="#2a2a2a" stroke-width="0.3" textLength="2.34" lengthAdjust="spacingAndGlyphs" >0</text>
<text x="417.69" y="325.90" font-size="6.69" font-weight="bold" font-style="normal" fill="#2a2a2a" stroke="#2a2a2a" stroke-width="0.3" textLength="7.17" lengthAdjust="spacingAndGlyphs" >10</text>
<text x="424.63" y="323.00" font-size="4.80" font-weight="bold" font-style="normal" fill="#2a2a2a" stroke="#2a2a2a" stroke-width="0.3" textLength="2.39" lengthAdjust="spacingAndGlyphs" >1</text>
<text x="448.89" y="325.90" font-size="6.69" font-weight="bold" font-style="normal" fill="#2a2a2a" stroke="#2a2a2a" stroke-width="0.3" textLength="7.17" lengthAdjust="spacingAndGlyphs" >10</text>
<text x="455.96" y="323.00" font-size="4.80" font-weight="bold" font-style="normal" fill="#2a2a2a" stroke="#2a2a2a" stroke-width="0.3" textLength="2.31" lengthAdjust="spacingAndGlyphs" >2</text>
<text x="480.09" y="325.90" font-size="6.69" font-weight="bold" font-style="normal" fill="#2a2a2a" stroke="#2a2a2a" stroke-width="0.3" textLength="7.17" lengthAdjust="spacingAndGlyphs" >10</text>
<text x="487.21" y="323.00" font-size="4.80" font-weight="bold" font-style="normal" fill="#2a2a2a" stroke="#2a2a2a" stroke-width="0.3" textLength="2.24" lengthAdjust="spacingAndGlyphs" >3</text>
<text x="511.29" y="325.90" font-size="6.69" font-weight="bold" font-style="normal" fill="#2a2a2a" stroke="#2a2a2a" stroke-width="0.3" textLength="7.17" lengthAdjust="spacingAndGlyphs" >10</text>
<text x="518.44" y="323.00" font-size="4.80" font-weight="bold" font-style="normal" fill="#2a2a2a" stroke="#2a2a2a" stroke-width="0.3" textLength="2.08" lengthAdjust="spacingAndGlyphs" >4</text>
<text x="434.38" y="337.80" font-size="10.47" font-weight="bold" font-style="normal" fill="#000" stroke="#000" stroke-width="0.3" textLength="38.04" lengthAdjust="spacingAndGlyphs" >MHC II</text>
<text transform="translate(373.50 275.00) rotate(-90)" x="-0.28" y="0" font-size="11.77" font-weight="bold" font-style="normal" fill="#000" stroke="#000" stroke-width="0.3" textLength="48.96" lengthAdjust="spacingAndGlyphs">% of Max</text>
<text x="435.62" y="196.80" font-size="10.76" font-weight="bold" font-style="normal" fill="#8c8c8c" stroke="#8c8c8c" stroke-width="0.3" textLength="40.88" lengthAdjust="spacingAndGlyphs" >Isotype</text>
<text x="436.13" y="212.80" font-size="11.05" font-weight="bold" font-style="normal" fill="#1010c8" stroke="#1010c8" stroke-width="0.3" textLength="37.24" lengthAdjust="spacingAndGlyphs" >AC 24h</text>
<text x="435.67" y="228.20" font-size="11.05" font-weight="bold" font-style="normal" fill="#d40c10" stroke="#d40c10" stroke-width="0.3" textLength="33.33" lengthAdjust="spacingAndGlyphs" >No AC</text>
</svg></body></html>
